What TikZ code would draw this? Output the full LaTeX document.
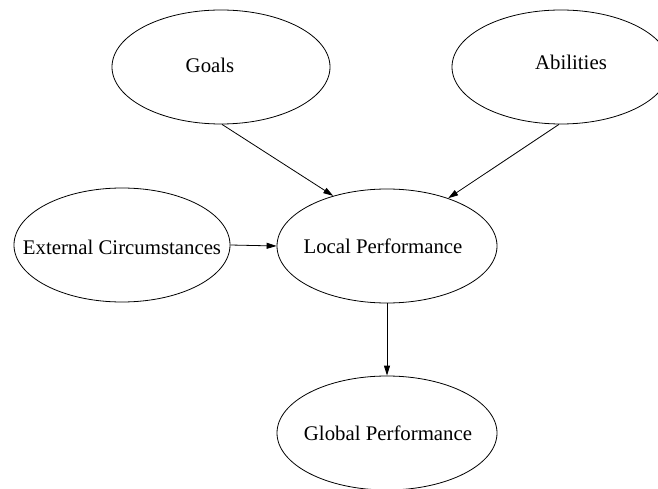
\documentclass[tikz,border=0pt]{standalone}
\usepackage{fontspec}
\setmainfont{Liberation Serif}
\usetikzlibrary{shapes.geometric,arrows.meta}
\begin{document}
\begin{tikzpicture}[x=1pt,y=-1pt,
  bubble/.style={draw,ellipse,line width=0.8pt,inner sep=0pt,minimum width=218pt,minimum height=114pt},
  caption/.style={font=\fontsize{20.8}{24}\selectfont,inner sep=0pt},
  link/.style={line width=0.8pt,-{Triangle[length=10pt,width=6pt]}}]
\useasboundingbox (0,0) rectangle (658,489);
% ellipses
\node[bubble] (goals) at (221,67) {};
\node[bubble] (abil)  at (561,67) {};
\node[bubble,minimum width=216pt] (ext) at (122,245) {};
\node[bubble,minimum width=220pt] (local) at (387,246) {};
\node[bubble,minimum width=220pt] (global) at (387,433) {};
% labels
\node[caption] (tgoals) at (210,65) {Goals};
\node[caption] (tabil)  at (571,62) {Abilities};
\node[caption] (text)   at (122,247) {External Circumstances};
\node[caption] (tlocal) at (383,246) {Local Performance};
\node[caption] (tglob)  at (388,433) {Global Performance};
% connectors
\draw[link] (goals.-89) -- (local.137);
\draw[link] (abil.-92) -- (local.38);
\draw[link] (ext.east) -- (local.west);
\draw[link] (local.south) -- (global.north);
\end{tikzpicture}
\end{document}
